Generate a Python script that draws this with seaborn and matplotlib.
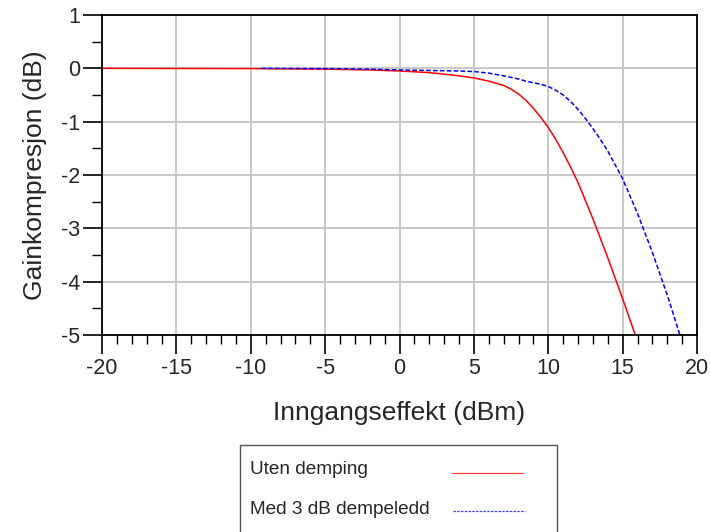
import matplotlib
matplotlib.use("Agg")
import matplotlib.pyplot as plt
from matplotlib.lines import Line2D
from matplotlib.patches import Rectangle
from matplotlib.ticker import MultipleLocator
import seaborn as sns
import pandas as pd

# Gain compression vs. input power, without and with a 3 dB attenuator
pin_uten = [-20, -10, -5, -2, 0, 2, 3, 4, 5, 6, 7, 7.5, 8, 8.5, 9, 9.5, 10,
            10.5, 11, 11.5, 12, 13, 14, 15, 15.85]
gain_uten = [0, -0.005, -0.015, -0.03, -0.05, -0.08, -0.11, -0.14, -0.18, -0.24,
             -0.32, -0.39, -0.48, -0.6, -0.75, -0.92, -1.11, -1.33, -1.58, -1.85,
             -2.14, -2.82, -3.55, -4.32, -5.0]

pin_med = [-9.3, -5, -2, 0, 2, 4, 5, 6, 7, 8, 8.5, 9, 9.5, 10, 10.5, 11, 11.5,
           12, 12.5, 13, 13.5, 14, 15, 16, 17, 18, 18.85]
gain_med = [0, -0.005, -0.015, -0.03, -0.04, -0.05, -0.06, -0.09, -0.14, -0.2,
            -0.24, -0.27, -0.3, -0.34, -0.41, -0.5, -0.62, -0.77, -0.94, -1.13,
            -1.33, -1.55, -2.07, -2.72, -3.45, -4.25, -5.0]

series_names = ["Uten demping", "Med 3 dB dempeledd"]
x_ticks = [-20, -15, -10, -5, 0, 5, 10, 15, 20]
y_ticks = [1, 0, -1, -2, -3, -4, -5]

sns.set_style("white")
plt.rcParams["font.family"] = ["Liberation Sans", "DejaVu Sans"]

df = pd.concat([
    pd.DataFrame({"Pin": pin_uten, "Gain": gain_uten, "Serie": series_names[0]}),
    pd.DataFrame({"Pin": pin_med, "Gain": gain_med, "Serie": series_names[1]}),
])

fig = plt.figure(figsize=(7.1, 5.32), dpi=100)
ax = fig.add_axes([102 / 710, 1 - 335 / 532, (697 - 102) / 710, (335 - 15) / 532])

sns.lineplot(data=df[df.Serie == series_names[0]], x="Pin", y="Gain", ax=ax,
             color="#ff0000", linewidth=1.1, sort=False, estimator=None, legend=False)
sns.lineplot(data=df[df.Serie == series_names[1]], x="Pin", y="Gain", ax=ax,
             color="#0000ff", linewidth=1.1, sort=False, estimator=None, legend=False,
             dashes=False)
ax.lines[-1].set_linestyle((0, (3, 1.5)))

ax.set_xlim(-20, 20)
ax.set_ylim(-5, 1)
ax.set_xticks(x_ticks)
ax.set_yticks(y_ticks)
ax.set_xticklabels([str(v) for v in x_ticks])
ax.set_yticklabels([str(v) for v in y_ticks])
ax.xaxis.set_minor_locator(MultipleLocator(1))
ax.yaxis.set_minor_locator(MultipleLocator(0.5))

ax.grid(True, which="major", color="#c4c4c4", linewidth=1.3)
ax.set_axisbelow(True)
for s in ax.spines.values():
    s.set_color("black")
    s.set_linewidth(1.3)
    s.set_visible(True)

ax.tick_params(axis="x", which="major", direction="out", length=13.5, width=1.2,
               color="black", labelsize=15.5, pad=3, bottom=True, top=False)
ax.tick_params(axis="x", which="minor", direction="out", length=6.5, width=1.0,
               color="black", bottom=True, top=False)
ax.tick_params(axis="y", which="major", direction="out", length=14, width=1.2,
               color="black", labelsize=15.5, pad=2, left=True, right=False)
ax.tick_params(axis="y", which="minor", direction="out", length=7, width=1.0,
               color="black", left=True, right=False)

ax.set_xlabel("Inngangseffekt (dBm)", fontsize=19, labelpad=16)
ax.set_ylabel("Gainkompresjon (dB)", fontsize=19, labelpad=10)

# Legend box below the plot: label on the left, line sample on the right
W, H = 710, 532
fig.patches.append(Rectangle((240 / W, 1 - 560 / H), (557 - 240) / W, (560 - 445) / H,
                             transform=fig.transFigure, facecolor="white",
                             edgecolor="#555555", linewidth=1.0))
fig.text(250 / W, 1 - 470 / H, series_names[0], fontsize=13.7, va="center", ha="left")
fig.text(250 / W, 1 - 509 / H, series_names[1], fontsize=13.7, va="center", ha="left")
fig.lines.append(Line2D([452 / W, 523 / W], [1 - 473 / H, 1 - 473 / H],
                        transform=fig.transFigure, color="#ff4040", linewidth=0.9))
fig.lines.append(Line2D([453 / W, 525 / W], [1 - 511 / H, 1 - 511 / H],
                        transform=fig.transFigure, color="#4040ff", linewidth=0.9,
                        linestyle=(0, (2, 1))))

fig.savefig("out.png", dpi=100)
